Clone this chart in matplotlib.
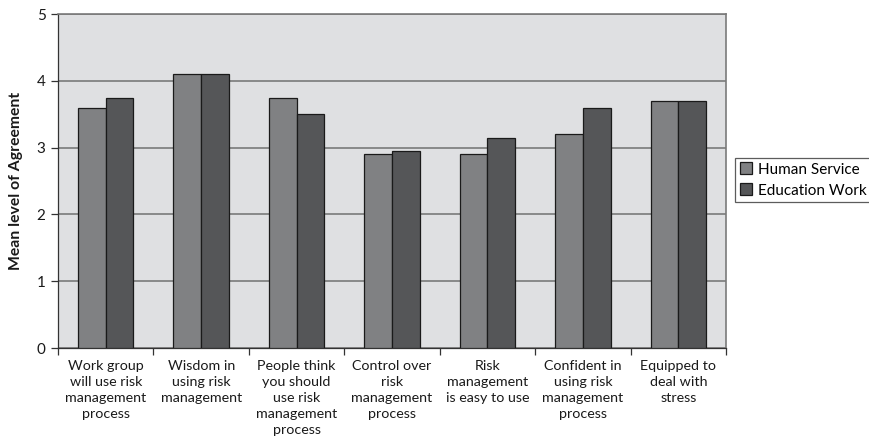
import matplotlib
matplotlib.use("Agg")
import matplotlib.pyplot as plt
import numpy as np

categories = [
    "Work group\nwill use risk\nmanagement\nprocess",
    "Wisdom in\nusing risk\nmanagement",
    "People think\nyou should\nuse risk\nmanagement\nprocess",
    "Control over\nrisk\nmanagement\nprocess",
    "Risk\nmanagement\nis easy to use",
    "Confident in\nusing risk\nmanagement\nprocess",
    "Equipped to\ndeal with\nstress",
]
human_service = [3.6, 4.1, 3.75, 2.9, 2.9, 3.2, 3.7]
education_work = [3.75, 4.1, 3.5, 2.95, 3.15, 3.6, 3.7]
series_names = ["Human Service", "Education Work"]

plt.rcParams["font.family"] = ["Lato", "DejaVu Sans"]

fig = plt.figure(figsize=(8.69, 4.38), dpi=100)
ax = fig.add_axes([58 / 869, 90 / 438, 668 / 869, 334 / 438])
ax.set_facecolor("#dfe0e2")

x = np.arange(len(categories))
w = 0.29
ax.bar(x - w / 2, human_service, w, color="#808183", edgecolor="#1a1a1a",
       linewidth=0.9, label=series_names[0], zorder=3)
ax.bar(x + w / 2, education_work, w, color="#555658", edgecolor="#1a1a1a",
       linewidth=0.9, label=series_names[1], zorder=3)

ax.set_xlim(-0.5, len(categories) - 0.5)
ax.set_ylim(0, 5)
ax.set_yticks(range(6))
ax.yaxis.grid(True, color="#7a7a7a", linewidth=1.2, zorder=1)
ax.set_axisbelow(True)

# category boundaries as major ticks, labels at centres as minor ticks
ax.set_xticks(np.arange(len(categories) + 1) - 0.5)
ax.set_xticklabels([])
ax.set_xticks(x, minor=True)
ax.set_xticklabels(categories, minor=True, fontsize=10.3,
                   linespacing=1.38, color="#1a1a1a")
ax.tick_params(axis="x", which="major", length=5, width=0.9, color="#333333")
ax.tick_params(axis="x", which="minor", length=0, pad=9)
ax.tick_params(axis="y", length=5, width=0.9, color="#333333", labelsize=11,
               labelcolor="#1a1a1a", pad=4)

for side in ("left", "bottom"):
    ax.spines[side].set_color("#333333")
    ax.spines[side].set_linewidth(0.9)
for side in ("top", "right"):
    ax.spines[side].set_color("#7a7a7a")
    ax.spines[side].set_linewidth(1.2)

ax.set_ylabel("Mean level of Agreement", fontsize=11.3, fontweight="bold",
              color="#1a1a1a", labelpad=10)

leg = ax.legend(loc="center left", bbox_to_anchor=(1.014, 0.503), frameon=True,
                fancybox=False, edgecolor="#333333", fontsize=11,
                handlelength=0.8, handleheight=0.8, handletextpad=0.35,
                borderpad=0.3, labelspacing=0.45, borderaxespad=0)
leg.get_frame().set_linewidth(0.9)

fig.savefig("out.png", dpi=100)
